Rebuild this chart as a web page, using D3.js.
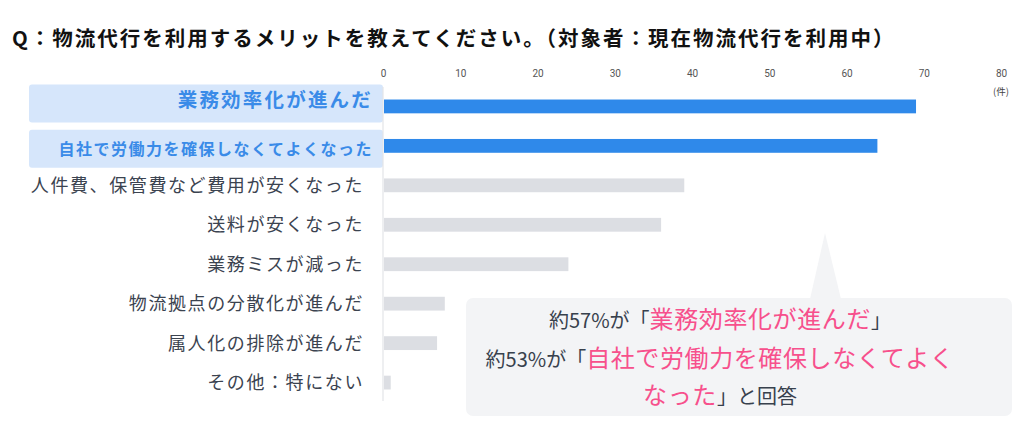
<!DOCTYPE html>
<html><head><meta charset="utf-8">
<script src="https://cdn.jsdelivr.net/npm/d3@7"></script>
<style>
html,body{margin:0;padding:0;background:#fff;}
svg{display:block;font-family:"Noto Sans CJK JP","Noto Sans",sans-serif;}
</style></head>
<body>
<svg id="c" width="1024" height="448"></svg>
<script>
const title = "Q：物流代行を利用するメリットを教えてください。（対象者：現在物流代行を利用中）";
const categories = ["業務効率化が進んだ","自社で労働力を確保しなくてよくなった","人件費、保管費など費用が安くなった","送料が安くなった","業務ミスが減った","物流拠点の分散化が進んだ","属人化の排除が進んだ","その他：特にない"];
const values = [69,64,39,36,24,8,7,1];
const highlighted = [true,true,false,false,false,false,false,false];
const tickValues = [0,10,20,30,40,50,60,70,80];
const unitLabel = "(件)";
const calloutLines = [
  [["約57%が「","n"],["業務効率化が進んだ","p"],["」","n"]],
  [["約53%が「","n"],["自社で労働力を確保しなくてよく","p"]],
  [["なった","p"],["」と回答","n"]]
];

const svg = d3.select("#c");
const x = d3.scaleLinear().domain([0,80]).range([383,1001]);
const y = d3.scaleBand().domain(categories).range([86.5,402.5]).paddingInner(0.65).paddingOuter(0.33);

// title
svg.append("text").attr("x",12).attr("y",46).attr("font-size",20.5).attr("font-weight",700)
  .attr("letter-spacing",2.0).attr("fill","#111").text(title);

// ticks
const ax = svg.append("g").attr("transform","translate(0,74)")
  .call(d3.axisTop(x).tickValues(tickValues).tickSize(0).tickPadding(0));
ax.select(".domain").remove();
ax.selectAll("text").attr("font-size",10).attr("fill","#555").attr("dy","0.32em")
  .attr("font-family","Roboto, 'Noto Sans', sans-serif");
svg.append("text").attr("x",x(80)).attr("y",95).attr("text-anchor","middle")
  .attr("font-size",9.5).attr("fill","#444").text(unitLabel);

// highlight boxes
const boxOff = [-22,-16];
svg.selectAll("rect.hl").data(categories.filter((c,i)=>highlighted[i])).join("rect")
  .attr("class","hl").attr("x",29).attr("width",x(0)-29)
  .attr("y",(d,i)=>y(d)+y.bandwidth()/2+boxOff[i]).attr("height",38)
  .attr("rx",3).attr("fill","#d6e6fb");

// axis line
svg.append("line").attr("x1",x(0)).attr("x2",x(0)).attr("y1",87).attr("y2",401)
  .attr("stroke","#e3e4e8").attr("stroke-width",1.2);

// bars
svg.selectAll("rect.bar").data(categories).join("rect").attr("class","bar")
  .attr("x",x(0)+1).attr("y",d=>y(d)).attr("height",y.bandwidth())
  .attr("width",(d,i)=>x(values[i])-x(0)-1)
  .attr("fill",(d,i)=>highlighted[i]?"#2f89ea":"#dcdee3");

// labels
const labOff = [-6,3];
svg.selectAll("text.lab").data(categories).join("text").attr("class","lab")
  .attr("text-anchor","end")
  .attr("x",(d,i)=>highlighted[i]?373:364)
  .attr("y",(d,i)=>y(d)+y.bandwidth()/2+(highlighted[i]?labOff[i]:0))
  .attr("dy","0.36em")
  .attr("font-size",(d,i)=>i===0?19.5:(i===1?16:18))
  .attr("letter-spacing",(d,i)=>i===0?2.2:(i===1?1.5:1.6))
  .attr("font-weight",(d,i)=>highlighted[i]?700:400)
  .attr("fill",(d,i)=>highlighted[i]?"#3a8be8":"#3b4350")
  .text(d=>d);

// callout
const cb = {x0:466,x1:1012,y0:298,y1:416};
const g = svg.append("g");
g.append("rect").attr("x",cb.x0).attr("y",cb.y0).attr("width",cb.x1-cb.x0).attr("height",cb.y1-cb.y0)
  .attr("rx",7).attr("fill","#f3f4f6");
g.append("path").attr("d","M810,299 L825,233 L841,299 Z").attr("fill","#f3f4f6");
const base = [328,367,404];
calloutLines.forEach((line,li)=>{
  const t = g.append("text").attr("x",720).attr("y",base[li]).attr("text-anchor","middle");
  line.forEach(([s,k])=>{
    t.append("tspan").text(s)
      .attr("font-size",k==="p"?24:20)
      .attr("fill",k==="p"?"#f7508c":"#38414d")
      .attr("letter-spacing",k==="p"?0.6:0);
  });
});
</script>
</body></html>
